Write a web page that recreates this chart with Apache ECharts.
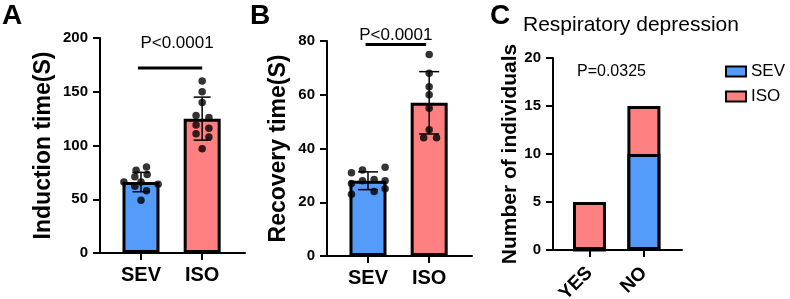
<!DOCTYPE html>
<html>
<head>
<meta charset="utf-8">
<script src="https://cdn.jsdelivr.net/npm/echarts@6/dist/echarts.min.js"></script>
<style>
  html, body { margin: 0; padding: 0; background: #fff; }
  #chart { width: 790px; height: 299px; }
</style>
</head>
<body>
<div id="chart"></div>
<script>
// groups (x positions 0 and 1 on each panel)
const groups = ['SEV', 'ISO'];
const groupColors = ['#559cfa', '#ff8080'];

// A: induction time
const inductionMean = [66, 125];
const inductionSD = [9, 20];
const inductionSev = [77, 80, 71, 73, 66, 66, 64, 62, 58, 49];
const inductionSevJitter = [-0.08, 0.09, -0.1, 0.1, -0.28, 0, 0.28, -0.1, 0.09, 0];
const inductionIso = [160, 150, 140, 128, 126, 119, 116, 111, 108, 97];
const inductionIsoJitter = [0, 0, 0, -0.1, 0.11, -0.1, 0.11, -0.1, 0.11, 0];

// B: recovery time
const recoveryMean = [28, 57];
const recoverySD = [3.3, 11.6];
const recoverySev = [31, 32, 33, 27, 28, 28, 23, 24, 25, 28.5];
const recoverySevJitter = [-0.27, -0.09, 0.28, -0.27, -0.09, 0.28, -0.27, 0.1, 0.28, 0.1];
const recoveryIso = [75, 68, 63, 60, 55, 47, 44, 44];
const recoveryIsoJitter = [0, 0, 0, 0, 0, 0, -0.09, 0.12];

// C: respiratory depression counts
const respCategories = ['YES', 'NO'];
const respSev = [0, 10];
const respIso = [5, 5];

const FONT = '"Liberation Sans", Arial, sans-serif';

const chart = echarts.init(document.getElementById('chart'));

function xAxisFor(gridIndex, labels, labelExtra) {
  return {
    gridIndex,
    type: 'value',
    min: -0.67,
    max: 1.7,
    splitLine: { show: false },
    axisLine: { show: true, onZero: false, lineStyle: { color: '#000', width: 2 } },
    axisTick: { show: true, customValues: [0, 1], length: 7, lineStyle: { color: '#000', width: 2 } },
    axisLabel: Object.assign({
      customValues: [0, 1],
      formatter: v => labels[Math.round(v)],
      color: '#000', fontFamily: FONT, fontWeight: 'bold', fontSize: 20, margin: 12
    }, labelExtra || {})
  };
}

function yAxisFor(gridIndex, max, interval, name, nameGap, nameSize) {
  return {
    gridIndex,
    type: 'value',
    min: 0,
    max,
    interval,
    name,
    nameLocation: 'middle',
    nameGap,
    nameTextStyle: { color: '#000', fontFamily: FONT, fontWeight: 'bold', fontSize: nameSize },
    splitLine: { show: false },
    axisLine: { show: true, onZero: false, lineStyle: { color: '#000', width: 2 } },
    axisTick: { show: true, length: 7, lineStyle: { color: '#000', width: 2 } },
    axisLabel: { color: '#000', fontFamily: FONT, fontWeight: 'bold', fontSize: 15, margin: 12 }
  };
}

function meanBars(idx, means) {
  return {
    type: 'bar',
    xAxisIndex: idx, yAxisIndex: idx,
    barWidth: 37,
    data: means.map((m, i) => ({ value: [i, m], itemStyle: { color: groupColors[i] } })),
    itemStyle: { borderColor: '#000', borderWidth: 3 },
    z: 2
  };
}

function errorBars(idx, means, sds, capWidth) {
  return {
    type: 'custom',
    xAxisIndex: idx, yAxisIndex: idx,
    data: means.map((m, i) => [i, m, sds[i]]),
    renderItem: (params, api) => {
      const x = api.value(0), m = api.value(1), s = api.value(2);
      const top = api.coord([x, m + s]);
      const bot = api.coord([x, m - s]);
      const st = { stroke: '#000', lineWidth: 1.5 };
      return {
        type: 'group',
        children: [
          { type: 'line', shape: { x1: top[0], y1: top[1], x2: bot[0], y2: bot[1] }, style: st },
          { type: 'line', shape: { x1: top[0] - capWidth / 2, y1: top[1], x2: top[0] + capWidth / 2, y2: top[1] }, style: st },
          { type: 'line', shape: { x1: bot[0] - capWidth / 2, y1: bot[1], x2: bot[0] + capWidth / 2, y2: bot[1] }, style: st }
        ]
      };
    },
    z: 3
  };
}

function dots(idx, values, jitter, center) {
  return {
    type: 'scatter',
    xAxisIndex: idx, yAxisIndex: idx,
    symbolSize: 7.5,
    itemStyle: { color: '#000' },
    data: values.map((v, i) => [center + jitter[i], v]),
    z: 4
  };
}

function sigBracket(idx, x0, x1, y, label, textGap, dx) {
  return {
    type: 'custom',
    xAxisIndex: idx, yAxisIndex: idx,
    data: [[x0, x1, y]],
    renderItem: (params, api) => {
      const p0 = api.coord([api.value(0), api.value(2)]);
      const p1 = api.coord([api.value(1), api.value(2)]);
      return {
        type: 'group',
        children: [
          { type: 'line', shape: { x1: p0[0], y1: p0[1], x2: p1[0], y2: p1[1] }, style: { stroke: '#000', lineWidth: 3 } },
          { type: 'text', style: { text: label, x: (p0[0] + p1[0]) / 2 + dx, y: p0[1] - textGap, align: 'center', verticalAlign: 'middle', fill: '#000', font: '17px ' + FONT } }
        ]
      };
    },
    z: 5
  };
}

const option = {
  animation: false,
  grid: [
    { left: 100, top: 38, width: 145, height: 215, outerBoundsMode: 'none' },
    { left: 327, top: 41, width: 145, height: 215, outerBoundsMode: 'none' },
    { left: 553, top: 58, width: 129, height: 192, outerBoundsMode: 'none' }
  ],
  xAxis: [
    xAxisFor(0, groups),
    xAxisFor(1, groups),
    xAxisFor(2, respCategories, { fontSize: 19, margin: 20, rotate: 45 })
  ],
  yAxis: [
    yAxisFor(0, 200, 50, 'Induction time(S)', 45, 23),
    yAxisFor(1, 80, 20, 'Recovery time(S)', 37, 23),
    yAxisFor(2, 20, 5, 'Number of individuals', 32, 21)
  ],
  legend: {
    data: ['SEV', 'ISO'],
    orient: 'vertical',
    left: 725,
    top: 63,
    padding: 0,
    itemWidth: 20,
    itemHeight: 10,
    itemGap: 8,
    icon: 'rect',
    itemStyle: { borderColor: '#000', borderWidth: 2 },
    textStyle: { color: '#000', fontFamily: FONT, fontSize: 17, lineHeight: 17 }
  },
  graphic: [
    { type: 'text', left: 2, top: 2, style: { text: 'A', font: 'bold 28px ' + FONT, fill: '#000' } },
    { type: 'text', left: 250, top: 2, style: { text: 'B', font: 'bold 28px ' + FONT, fill: '#000' } },
    { type: 'text', left: 490, top: 2, style: { text: 'C', font: 'bold 28px ' + FONT, fill: '#000' } },
    { type: 'text', left: 523, top: 15, style: { text: 'Respiratory depression', font: '21px ' + FONT, fill: '#000' } },
    { type: 'text', left: 577, top: 64, style: { text: 'P=0.0325', font: '16px ' + FONT, fill: '#000' } }
  ],
  series: [
    meanBars(0, inductionMean),
    errorBars(0, inductionMean, inductionSD, 17),
    dots(0, inductionSev, inductionSevJitter, 0),
    dots(0, inductionIso, inductionIsoJitter, 1),
    sigBracket(0, -0.05, 1.0, 172, 'P<0.0001', 25, 7),

    meanBars(1, recoveryMean),
    errorBars(1, recoveryMean, recoverySD, 20),
    dots(1, recoverySev, recoverySevJitter, 0),
    dots(1, recoveryIso, recoveryIsoJitter, 1),
    sigBracket(1, -0.04, 0.95, 78.7, 'P<0.0001', 9, 0),

    {
      name: 'ISO',
      type: 'bar',
      xAxisIndex: 2, yAxisIndex: 2,
      barWidth: 33,
      barGap: '-100%',
      data: respIso.map((v, i) => [i, v + respSev[i]]),
      itemStyle: { color: groupColors[1], borderColor: '#000', borderWidth: 3 },
      z: 2
    },
    {
      name: 'SEV',
      type: 'bar',
      xAxisIndex: 2, yAxisIndex: 2,
      barWidth: 33,
      barGap: '-100%',
      data: respSev.map((v, i) => [i, v]),
      itemStyle: { color: groupColors[0], borderColor: '#000', borderWidth: 3 },
      z: 3
    }
  ]
};

chart.setOption(option);
</script>
</body>
</html>
